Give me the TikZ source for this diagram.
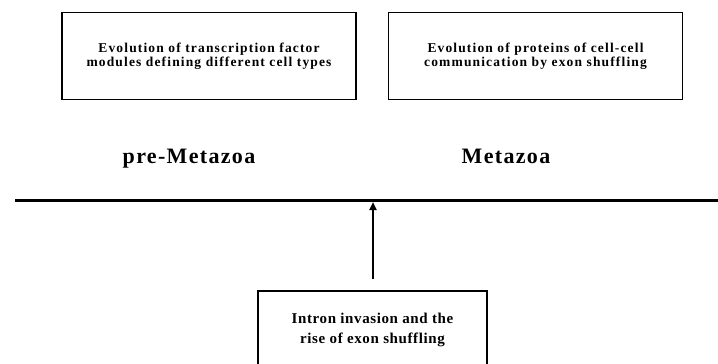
\documentclass[tikz,border=0pt]{standalone}
\usepackage{fontspec}
\setmainfont{Liberation Serif}
\newfontfamily\topfont[LetterSpace=8.5]{Liberation Serif}
\newfontfamily\botfont[LetterSpace=4]{Liberation Serif}
\newfontfamily\erafont[LetterSpace=6]{Liberation Serif}
\usetikzlibrary{arrows.meta}
\begin{document}
\begin{tikzpicture}[x=1bp,y=-1bp,
  boxline/.style={draw=black,line width=1.6bp},
  topbox/.style={boxline,align=center,inner sep=0pt,
    font=\topfont\bfseries\fontsize{13.5bp}{14.5bp}\selectfont},
  bottext/.style={align=center,inner sep=0pt,
    font=\botfont\bfseries\fontsize{15bp}{20bp}\selectfont},
  eralabel/.style={font=\erafont\bfseries\fontsize{22bp}{24bp}\selectfont,inner sep=0pt,anchor=base},
  arr/.style={line width=2bp,-{Triangle[length=8bp,width=7bp]}}]
\useasboundingbox (0,0) rectangle (718,363);
\clip (0,0) rectangle (718,363);
\fill[white] (0,0) rectangle (718,363);
\node[topbox,minimum width=294bp,minimum height=87bp] (tf) at (209,56)
  {Evolution of transcription factor\\modules defining different cell types};
\node[topbox,minimum width=294bp,minimum height=87bp] (pc) at (535.5,56)
  {Evolution of proteins of cell-cell\\communication by exon shuffling};
\node[eralabel] (pre) at (189,163) {pre-Metazoa};
\node[eralabel] (met) at (506,163) {Metazoa};
\coordinate (lineL) at (15,200.5);
\coordinate (lineR) at (718,200.5);
\draw[line width=2.5bp] (lineL) -- (lineR);
\coordinate (tip) at (373,202);
\coordinate (tail) at (373,279);
\node[bottext] (intron) at (372.5,330)
  {Intron invasion and the\\rise of exon shuffling};
\draw[boxline] ([shift={(-114.5,-39)}]intron.center) rectangle ([shift={(114.5,50)}]intron.center);
\draw[arr] (tail) -- (tip);
\end{tikzpicture}
\end{document}
